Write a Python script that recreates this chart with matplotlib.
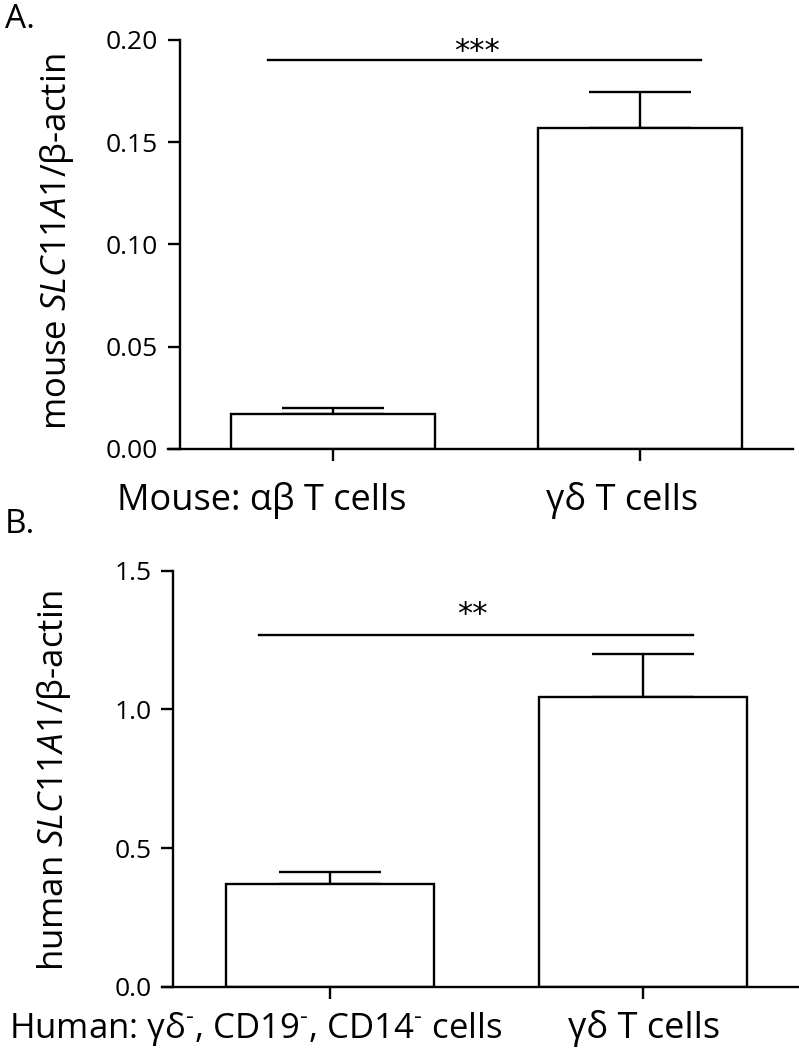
import matplotlib
matplotlib.use('Agg')
import matplotlib.pyplot as plt

plt.rcParams['font.family'] = ['Open Sans', 'DejaVu Sans']
plt.rcParams['mathtext.fontset'] = 'custom'
plt.rcParams['mathtext.rm'] = 'Open Sans'
plt.rcParams['mathtext.it'] = 'Open Sans:italic'

# panel A: mouse
mouse_groups = ['Mouse: \u03b1\u03b2 T cells', '\u03b3\u03b4 T cells']
mouse_mean = [0.017, 0.157]
mouse_err = [0.003, 0.0176]
mouse_yticks = [0.00, 0.05, 0.10, 0.15, 0.20]
mouse_sig = '***'

# panel B: human
human_groups = ['Human: \u03b3\u03b4' + r'$^{\text{-}}$, CD19$^{\text{-}}$, CD14$^{\text{-}}$ cells',
                '\u03b3\u03b4 T cells']
human_mean = [0.369, 1.044]
human_err = [0.046, 0.155]
human_yticks = [0.0, 0.5, 1.0, 1.5]
human_sig = '**'

W, H = 799, 1050
fig = plt.figure(figsize=(W / 100, H / 100), dpi=100)
LW = 1.7


def px_axes(l, r, t, b):
    return fig.add_axes([l / W, 1 - b / H, (r - l) / W, (b - t) / H])


def draw_panel(ax, means, errs, yticks, fmt, xleft, sig, sig_y, sig_x, star_x, star_off):
    x = [0, 1]
    ax.bar(x, means, width=0.665, color='white', edgecolor='black', linewidth=LW, zorder=2)
    ax.errorbar(x, means, yerr=[[0, 0], errs], fmt='none', ecolor='black',
                elinewidth=LW, capsize=37, capthick=LW, zorder=1)
    ax.set_xlim(xleft, 1.5)
    ax.set_ylim(yticks[0], yticks[-1])
    ax.set_yticks(yticks)
    ax.set_yticklabels([fmt.format(v) for v in yticks])
    ax.set_xticks(x)
    ax.set_xticklabels([])
    for s in ['top', 'right']:
        ax.spines[s].set_visible(False)
    ax.spines['left'].set_position(('data', -0.5))
    ax.spines['left'].set_linewidth(LW)
    ax.spines['bottom'].set_linewidth(LW)
    ax.tick_params(direction='out', length=8.6, width=LW, labelsize=19, pad=7)
    ax.plot(sig_x, [sig_y, sig_y], color='black', lw=LW, clip_on=False)
    ax.annotate(sig, xy=(star_x, sig_y), xytext=(0, star_off), textcoords='offset points',
                ha='center', va='baseline', fontsize=22, fontfamily='DejaVu Sans')


# --- A ---
axA = px_axes(168, 793, 40, 449)
draw_panel(axA, mouse_mean, mouse_err, mouse_yticks, '{:.2f}', -0.539,
           mouse_sig, 0.190, [-0.213, 1.201], 0.47, 0)
axA.annotate(mouse_groups[0], xy=(0.24, 0), xycoords=('data', 'axes fraction'),
             xytext=(0, -44), textcoords='offset points', ha='right', va='baseline', fontsize=26)
axA.annotate(mouse_groups[1], xy=(0.943, 0), xycoords=('data', 'axes fraction'),
             xytext=(0, -44), textcoords='offset points', ha='center', va='baseline', fontsize=26)
fig.text(57 / W, 1 - 242 / H, r'mouse $\mathit{SLC11A1}$/' + '\u03b2-actin',
         rotation=90, ha='center', va='center', fontsize=25)
fig.text(5 / W, 1 - 28 / H, 'A.', fontsize=24, va='baseline')

# --- B ---
axB = px_axes(161.7, 799, 570.7, 986.7)
draw_panel(axB, human_mean, human_err, human_yticks, '{:.1f}', -0.537,
           human_sig, 1.268, [-0.227, 1.162], 0.455, 8.5)
axB.annotate(human_groups[0], xy=(0.552, 0), xycoords=('data', 'axes fraction'),
             xytext=(0, -37), textcoords='offset points', ha='right', va='baseline', fontsize=25)
axB.annotate(human_groups[1], xy=(1.006, 0), xycoords=('data', 'axes fraction'),
             xytext=(0, -37), textcoords='offset points', ha='center', va='baseline', fontsize=26)
fig.text(54 / W, 1 - 780 / H, r'human $\mathit{SLC11A1}$/' + '\u03b2-actin',
         rotation=90, ha='center', va='center', fontsize=25)
fig.text(5 / W, 1 - 533 / H, 'B.', fontsize=24, va='baseline')

fig.savefig('out.png', dpi=100)
